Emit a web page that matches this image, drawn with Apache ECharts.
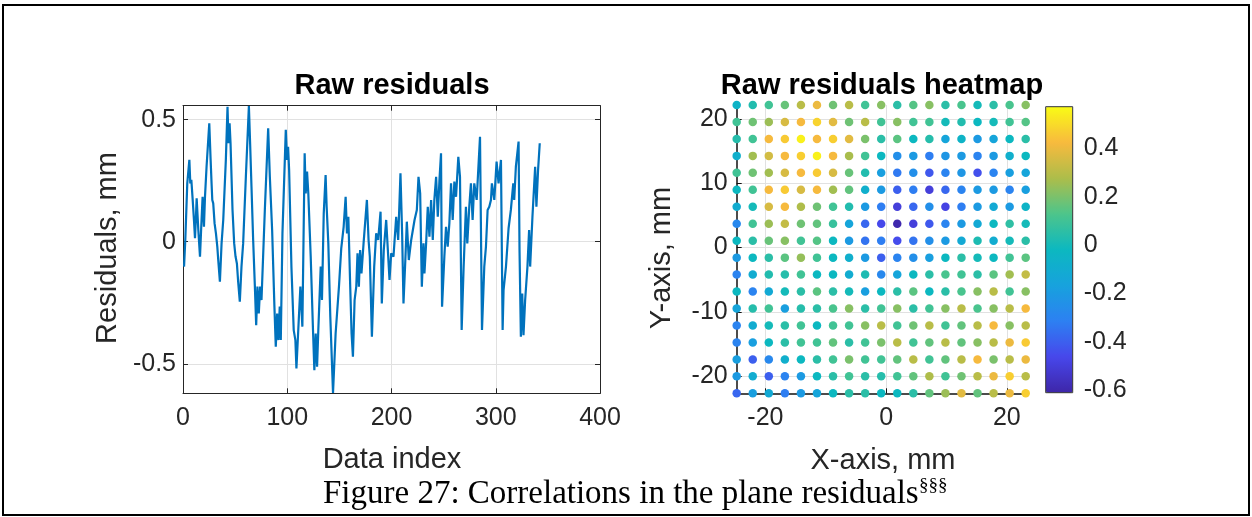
<!DOCTYPE html>
<html><head><meta charset="utf-8">
<script src="https://cdn.jsdelivr.net/npm/echarts@6/dist/echarts.min.js"></script>
<style>html,body{margin:0;padding:0;background:#fff}#c{width:1252px;height:517px}</style>
</head><body><div id="c"></div>
<script>
// ---- Left plot: raw residuals (data index vs residual, mm) ----
const residualIndex = [1.0,2.2,4.1,6.1,7.0,8.0,9.3,10.5,11.5,12.4,13.1,14.7,16.3,17.5,18.8,20.1,21.1,22.6,25.2,26.5,27.4,28.1,29.0,30.3,31.6,32.9,33.8,35.4,37.0,38.6,39.6,41.1,42.7,43.7,44.7,45.6,47.5,49.1,50.4,51.7,52.9,54.5,56.1,57.7,60.3,63.2,64.4,65.7,67.3,68.9,70.2,71.4,72.7,74.0,75.3,78.5,81.7,83.3,85.5,87.7,89.0,90.3,91.5,92.8,93.8,95.4,98.6,99.8,100.8,101.8,104.0,106.2,107.8,108.8,110.4,112.6,114.5,116.7,117.7,119.0,120.2,122.5,124.7,126.0,127.3,128.6,129.8,132.1,133.3,135.0,136.8,137.8,139.4,141.3,143.9,146.4,149.6,151.8,154.1,156.0,157.3,158.6,160.4,161.7,163.0,164.6,166.2,167.4,168.7,169.9,171.2,173.2,176.4,178.0,179.2,181.2,183.4,185.3,187.2,189.5,190.7,192.6,194.9,196.5,198.1,199.7,201.9,204.5,206.4,208.6,210.2,211.5,213.4,214.7,216.6,218.9,222.1,224.3,225.9,227.5,229.1,230.7,231.6,233.2,234.8,236.4,238.0,239.6,241.1,242.8,244.4,246.0,247.5,248.5,250.7,252.3,253.9,255.5,257.1,258.7,260.3,261.9,264.1,265.7,267.3,269.2,271.4,272.7,274.6,276.2,277.8,279.4,281.7,284.9,286.8,289.0,290.6,292.2,293.8,295.4,296.3,298.6,300.8,302.7,305.0,306.6,307.5,309.8,312.3,314.5,316.8,317.7,319.3,321.9,322.8,324.1,325.4,326.6,328.2,330.4,332.0,333.0,335.2,337.8,339.0,340.6,342.2];
const residualValue = [-0.102,0.007,0.239,0.335,0.239,0.253,0.171,0.089,0.014,0.10,0.178,0.048,-0.061,0.061,0.184,0.061,0.184,0.307,0.485,0.335,0.239,0.171,0.157,0.075,0.034,-0.02,-0.075,-0.164,-0.007,0.089,0.096,0.335,0.553,0.403,0.485,0.403,0.13,-0.007,-0.061,-0.089,-0.164,-0.246,-0.102,-0.007,0.266,0.556,0.40,0.225,0.007,-0.178,-0.342,-0.184,-0.294,-0.184,-0.239,0.13,0.464,0.266,0.048,-0.266,-0.43,-0.294,-0.403,-0.266,-0.403,0.034,0.458,0.335,0.389,0.294,-0.102,-0.362,-0.403,-0.519,-0.376,-0.184,-0.348,0.362,0.198,0.287,0.198,-0.061,-0.362,-0.526,-0.376,-0.512,-0.362,-0.102,-0.239,0.116,0.273,0.143,-0.007,-0.307,-0.62,-0.376,-0.184,-0.027,0.061,0.184,0.034,0.102,-0.184,-0.376,-0.471,-0.239,-0.184,-0.048,-0.184,-0.034,-0.13,-0.007,0.171,0.007,-0.061,-0.389,-0.102,0.034,0.007,0.123,-0.253,-0.034,0.089,-0.034,-0.157,-0.048,-0.061,0.102,0.007,0.28,0.034,-0.253,-0.061,0.082,-0.075,0.007,0.089,0.13,0.266,0.198,-0.184,-0.007,-0.13,-0.007,0.143,0.02,0.171,0.007,0.171,0.266,0.102,0.253,0.362,-0.266,-0.061,0.061,-0.02,0.075,0.239,0.089,0.246,0.184,0.348,0.266,-0.362,-0.102,0.143,-0.007,0.143,0.239,0.089,0.239,0.171,0.43,-0.362,-0.102,-0.02,0.13,0.143,0.171,0.239,0.171,0.328,0.239,0.335,-0.362,-0.198,-0.102,0.055,0.13,0.239,0.171,0.307,0.41,-0.034,-0.389,-0.212,-0.383,-0.239,-0.102,0.048,-0.102,0.102,0.307,0.143,0.294,0.403];
const lineXTicks = [0, 100, 200, 300, 400];
const lineYTicks = [-0.5, 0, 0.5];

// ---- Right plot: residual heatmap on the X/Y grid (mm) ----
const gridX = [-24.75,-22.09,-19.43,-16.77,-14.11,-11.45,-8.79,-6.13,-3.47,-0.81,1.85,4.51,7.17,9.83,12.49,15.15,17.81,20.47,23.13];
const gridY = [22.2,19.56,16.92,14.28,11.64,9.0,6.36,3.72,1.08,-1.56,-4.2,-6.84,-9.48,-12.12,-14.76,-17.4,-20.04,-22.68];
const heatRows = [
 [-0.05,0.03,0.1,0.17,0.3,0.4,0.18,0.3,0.1,0.22,0.05,0.14,0.22,0.05,0.12,0.0,0.05,0.12,0.22],
 [0.1,0.18,0.25,0.36,0.42,0.48,0.38,0.18,0.3,0.1,0.22,0.1,0.1,0.0,0.03,-0.02,0.0,0.1,0.14],
 [0.04,0.1,0.42,0.46,0.55,0.42,0.47,0.38,0.2,0.05,0.15,-0.02,0.04,-0.15,-0.05,-0.2,-0.15,-0.02,0.05],
 [-0.08,0.26,0.35,0.42,0.47,0.55,0.42,0.27,0.1,-0.02,-0.25,-0.2,-0.32,-0.22,-0.2,-0.3,-0.2,-0.08,-0.02],
 [0.1,0.18,0.26,0.36,0.42,0.46,0.36,0.17,0.03,-0.18,-0.33,-0.25,-0.42,-0.3,-0.22,-0.44,-0.3,-0.18,-0.15],
 [-0.02,0.1,0.42,0.46,0.36,0.42,0.26,0.16,-0.08,-0.2,-0.4,-0.32,-0.5,-0.38,-0.3,-0.2,-0.2,-0.3,-0.18],
 [-0.1,0.0,0.36,0.42,0.28,0.18,0.1,0.03,-0.2,-0.32,-0.5,-0.38,-0.25,-0.48,-0.32,-0.2,-0.12,-0.2,-0.05],
 [-0.28,0.1,0.25,0.32,0.18,0.16,0.08,-0.15,-0.38,-0.46,-0.6,-0.5,-0.42,-0.3,-0.2,-0.12,-0.02,0.06,0.0],
 [-0.02,0.05,0.17,0.22,0.1,0.14,-0.02,-0.2,-0.35,-0.32,-0.45,-0.35,-0.25,-0.2,-0.12,0.02,-0.1,0.0,0.05],
 [-0.2,-0.02,0.05,0.15,0.24,0.1,-0.02,-0.08,-0.2,-0.4,-0.3,-0.25,-0.18,-0.02,0.05,0.0,-0.02,0.1,0.15],
 [-0.3,-0.1,0.03,0.04,0.1,-0.02,-0.02,-0.1,0.02,-0.28,-0.15,-0.02,0.05,0.12,0.1,0.05,0.15,0.26,0.32],
 [-0.02,-0.3,-0.12,0.0,0.05,0.15,0.05,0.0,-0.18,-0.02,0.05,0.15,-0.02,0.05,0.12,0.22,0.3,0.1,0.22],
 [-0.15,0.04,0.1,-0.18,0.04,0.05,0.12,0.22,0.05,0.1,0.22,0.05,0.1,0.22,0.3,0.12,0.22,0.3,0.42],
 [-0.3,-0.1,0.0,0.05,0.1,-0.02,0.1,0.1,0.22,0.3,0.1,0.18,0.3,0.1,0.16,0.3,0.42,0.22,0.3],
 [-0.3,-0.18,-0.02,0.05,0.1,0.1,0.16,0.05,0.1,0.2,0.3,0.1,0.16,0.3,0.16,0.22,0.3,0.4,0.46],
 [-0.18,-0.4,-0.28,-0.08,-0.02,0.05,0.1,0.2,0.1,0.1,0.16,0.3,0.1,0.16,0.3,0.42,0.2,0.3,0.4],
 [-0.2,-0.1,-0.4,-0.3,-0.2,-0.02,0.05,0.1,0.05,0.04,0.1,0.16,0.28,0.1,0.18,0.3,0.4,0.47,0.3],
 [-0.38,-0.18,-0.12,-0.32,-0.2,-0.15,-0.02,0.05,0.05,-0.02,-0.02,0.05,0.16,0.25,0.38,0.16,0.3,0.4,0.47]
];
const heatXTicks = [-20, 0, 20];
const heatYTicks = [-20, -10, 0, 10, 20];
const colorbarTicks = [-0.6, -0.4, -0.2, 0, 0.2, 0.4];
const colorRange = [-0.611, 0.572];

const parula = ['#3E26A8','#4747EB','#2D80F2','#17A2DD','#0CB8C0','#4DC58B','#ADBD4A','#F8BA3E','#F9FB15'];

const lineData = residualIndex.map((x, i) => [x, residualValue[i]]);
const heatData = [];
heatRows.forEach((row, r) => row.forEach((v, c) => heatData.push([gridX[c], gridY[r], v])));

const FONT = "'Liberation Sans', Arial, Helvetica, sans-serif";
const AX = '#262626';
const tickFont = 25;
const labFont = 29;
const gridLine = {show: true, lineStyle: {color: '#e1e1e1', width: 1}};

const chart = echarts.init(document.getElementById('c'), null, {renderer: 'canvas'});
chart.setOption({
  animation: false,
  backgroundColor: '#fff',
  grid: [
    {left: 183, top: 105.7, width: 417, height: 287.6},
    {left: 736.7, top: 105, width: 289, height: 288.3},
    {left: 1045.7, top: 106.7, width: 27, height: 286, show: true, borderColor: '#333', borderWidth: 1, backgroundColor: 'transparent', z: 10}
  ],
  xAxis: [
    {gridIndex: 0, type: 'value', min: 0, max: 400, interval: 100, position: 'bottom',
     axisLine: {show: true, onZero: false, lineStyle: {color: AX, width: 1}},
     axisTick: {show: true, inside: true, length: 5, lineStyle: {color: AX}},
     axisLabel: {fontSize: tickFont, color: AX, fontFamily: FONT, margin: 12},
     splitLine: gridLine},
    {gridIndex: 0, type: 'value', min: 0, max: 400, interval: 100, position: 'top',
     axisLine: {show: true, onZero: false, lineStyle: {color: AX, width: 1}},
     axisTick: {show: true, inside: true, length: 5, lineStyle: {color: AX}},
     axisLabel: {show: false}, splitLine: {show: false}},
    {gridIndex: 1, type: 'value', min: gridX[0], max: gridX[gridX.length - 1], position: 'bottom',
     axisLine: {show: true, onZero: false, lineStyle: {color: '#111', width: 1.5}},
     axisTick: {show: true, inside: true, length: 5, lineStyle: {color: '#111'}, customValues: heatXTicks},
     axisLabel: {fontSize: tickFont, color: AX, fontFamily: FONT, margin: 12, customValues: heatXTicks},
     splitLine: gridLine},
    {gridIndex: 2, type: 'value', min: 0, max: 1, show: false}
  ],
  yAxis: [
    {gridIndex: 0, type: 'value', min: -0.621, max: 0.557, position: 'left',
     axisLine: {show: true, onZero: false, lineStyle: {color: AX, width: 1}},
     axisTick: {show: true, inside: true, length: 5, lineStyle: {color: AX}, customValues: lineYTicks},
     axisLabel: {fontSize: tickFont, color: AX, fontFamily: FONT, margin: 7, customValues: lineYTicks},
     splitLine: gridLine},
    {gridIndex: 0, type: 'value', min: -0.621, max: 0.557, position: 'right',
     axisLine: {show: true, onZero: false, lineStyle: {color: AX, width: 1}},
     axisTick: {show: true, inside: true, length: 5, lineStyle: {color: AX}, customValues: lineYTicks},
     axisLabel: {show: false}, splitLine: {show: false}},
    {gridIndex: 1, type: 'value', min: gridY[gridY.length - 1], max: gridY[0], position: 'left',
     axisLine: {show: true, onZero: false, lineStyle: {color: '#111', width: 1.5}},
     axisTick: {show: true, inside: true, length: 5, lineStyle: {color: '#111'}, customValues: heatYTicks},
     axisLabel: {fontSize: tickFont, color: AX, fontFamily: FONT, margin: 9, customValues: heatYTicks},
     splitLine: gridLine},
    {gridIndex: 2, type: 'value', min: colorRange[0], max: colorRange[1], position: 'right',
     axisLine: {show: false},
     axisTick: {show: false, customValues: colorbarTicks},
     axisLabel: {fontSize: tickFont, color: AX, fontFamily: FONT, margin: 11, customValues: colorbarTicks},
     splitLine: {show: false}}
  ],
  visualMap: {
    type: 'continuous', min: colorRange[0], max: colorRange[1], dimension: 2, seriesIndex: 1,
    inRange: {color: parula}, calculable: false, hoverLink: false,
    orient: 'vertical', left: 1045.7, top: 106.7, itemWidth: 27, itemHeight: 286, padding: 0,
    textStyle: {fontSize: 1, color: 'transparent'}
  },
  series: [
    {type: 'line', xAxisIndex: 0, yAxisIndex: 0, data: lineData, showSymbol: false, symbol: 'none',
     lineStyle: {color: '#0072BD', width: 2.2}, clip: true},
    {type: 'scatter', xAxisIndex: 2, yAxisIndex: 2, data: heatData, symbolSize: 8.5,
     itemStyle: {opacity: 1}}
  ],
  graphic: [
    {type: 'rect', shape: {x: 3, y: 5, width: 1246, height: 510}, style: {fill: 'none', stroke: '#000', lineWidth: 2}, silent: true},
    {type: 'text', x: 392, y: 86, style: {text: 'Raw residuals', font: "bold " + labFont + "px " + FONT, fill: '#000', textAlign: 'center', textVerticalAlign: 'middle'}},
    {type: 'text', x: 882, y: 86, style: {text: 'Raw residuals heatmap', font: "bold " + labFont + "px " + FONT, fill: '#000', textAlign: 'center', textVerticalAlign: 'middle'}},
    {type: 'text', x: 108, y: 248, rotation: Math.PI / 2, style: {text: 'Residuals, mm', font: labFont + "px " + FONT, fill: AX, textAlign: 'center', textVerticalAlign: 'middle'}},
    {type: 'text', x: 392, y: 460, style: {text: 'Data index', font: labFont + "px " + FONT, fill: AX, textAlign: 'center', textVerticalAlign: 'middle'}},
    {type: 'text', x: 662, y: 258, rotation: Math.PI / 2, style: {text: 'Y-axis, mm', font: labFont + "px " + FONT, fill: AX, textAlign: 'center', textVerticalAlign: 'middle'}},
    {type: 'text', x: 883, y: 461, style: {text: 'X-axis, mm', font: labFont + "px " + FONT, fill: AX, textAlign: 'center', textVerticalAlign: 'middle'}},
    {type: 'text', x: 323, y: 494, style: {text: 'Figure 27: Correlations in the plane residuals', font: "33px 'Liberation Serif', 'Times New Roman', serif", fill: '#000', textAlign: 'left', textVerticalAlign: 'middle'}},
    {type: 'text', x: 919, y: 486, style: {text: '§§§', font: "19px 'Liberation Serif', 'Times New Roman', serif", fill: '#000', textAlign: 'left', textVerticalAlign: 'middle'}}
  ]
});
</script>
</body></html>
